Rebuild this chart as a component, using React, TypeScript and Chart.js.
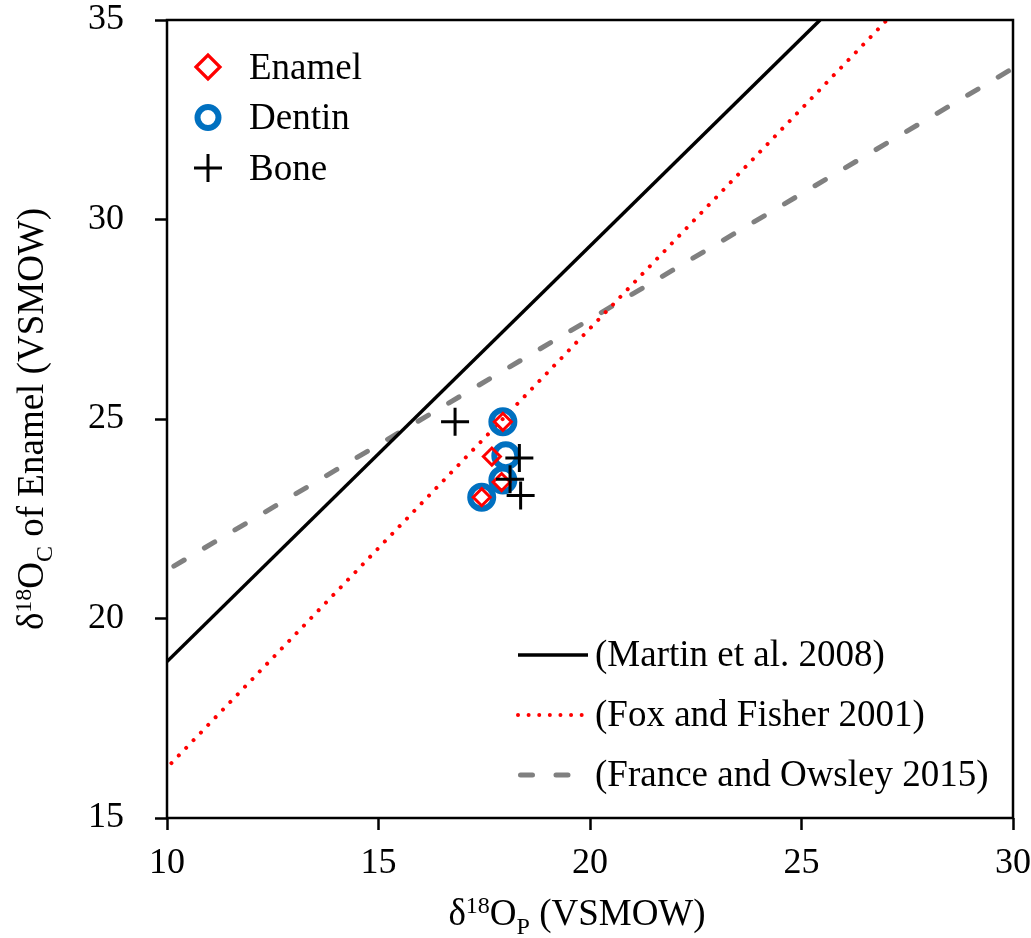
import React, { useEffect, useRef } from "react";
import { Chart, registerables } from "chart.js";

Chart.register(...registerables);

// ---------- data ----------
const xTicks = [10, 15, 20, 25, 30];
const yTicks = [15, 20, 25, 30, 35];

const seriesNames = ["Enamel", "Dentin", "Bone"];
const enamelX = [17.94, 17.68, 17.91, 17.44];
const enamelY = [24.93, 24.06, 23.42, 23.04];
const dentinX = [17.94, 18.01, 17.94, 17.44];
const dentinY = [24.93, 24.08, 23.47, 23.04];
const boneX = [16.81, 18.33, 18.11, 18.36];
const boneY = [24.93, 24.02, 23.49, 23.08];

const lineNames = ["(Martin et al. 2008)", "(Fox and Fisher 2001)", "(France and Owsley 2015)"];
const martinX = [10, 25.44];
const martinY = [18.92, 35];
const foxX = [10, 27.02];
const foxY = [16.26, 35];
const franceX = [10, 30];
const franceY = [21.21, 33.79];

const xTitleParts = [
  { t: "δ", k: "n" },
  { t: "18", k: "sup" },
  { t: "O", k: "n" },
  { t: "P", k: "sub" },
  { t: " (VSMOW)", k: "n" },
];
const yTitleParts = [
  { t: "δ", k: "n" },
  { t: "18", k: "sup" },
  { t: "O", k: "n" },
  { t: "C", k: "sub" },
  { t: " of Enamel (VSMOW)", k: "n" },
];

// ---------- styling ----------
const FONT = '"Liberation Serif", "Times New Roman", Times, serif';
const RED = "#FF0000";
const BLUE = "#0070C0";
const GRAY = "#808080";

const pts = (xs: number[], ys: number[]) => xs.map((x, i) => ({ x, y: ys[i] }));

function drawRich(ctx: CanvasRenderingContext2D, parts: { t: string; k: string }[], cx: number, baseline: number) {
  const big = 37;
  const small = 24;
  const fontFor = (k: string) => `${k === "n" ? big : small}px ${FONT}`;
  let total = 0;
  const widths = parts.map((p) => {
    ctx.font = fontFor(p.k);
    const w = ctx.measureText(p.t).width;
    total += w;
    return w;
  });
  let x = cx - total / 2;
  ctx.textAlign = "left";
  ctx.textBaseline = "alphabetic";
  parts.forEach((p, i) => {
    ctx.font = fontFor(p.k);
    const dy = p.k === "sup" ? -12 : p.k === "sub" ? 9 : 0;
    ctx.fillText(p.t, x, baseline + dy);
    x += widths[i];
  });
}

function drawMarker(ctx: CanvasRenderingContext2D, style: string, x: number, y: number, r: number, color: string, lw: number) {
  ctx.save();
  ctx.strokeStyle = color;
  ctx.lineWidth = lw;
  ctx.setLineDash([]);
  ctx.beginPath();
  if (style === "rectRot") {
    ctx.moveTo(x - r, y);
    ctx.lineTo(x, y - r);
    ctx.lineTo(x + r, y);
    ctx.lineTo(x, y + r);
    ctx.closePath();
  } else if (style === "circle") {
    ctx.arc(x, y, r, 0, Math.PI * 2);
  } else {
    ctx.moveTo(x - r, y);
    ctx.lineTo(x + r, y);
    ctx.moveTo(x, y - r);
    ctx.lineTo(x, y + r);
  }
  ctx.stroke();
  ctx.restore();
}

const decorPlugin = {
  id: "decor",
  afterDraw(chart: any) {
    const ctx: CanvasRenderingContext2D = chart.ctx;
    const a = chart.chartArea;
    const ds = chart.data.datasets;
    ctx.save();

    // frame
    ctx.strokeStyle = "#000";
    ctx.lineWidth = 2.5;
    ctx.setLineDash([]);
    ctx.strokeRect(a.left, a.top, a.right - a.left, a.bottom - a.top);

    // marker legend (top-left)
    const legendSizes = [
      { r: 12, lw: 3.2 },
      { r: 10.5, lw: 6 },
      { r: 14, lw: 3 },
    ];
    for (let i = 0; i < 3; i++) {
      const d = ds[i];
      const cy = a.top + 47 + i * 50.5;
      drawMarker(ctx, d.pointStyle, a.left + 41, cy, legendSizes[i].r, d.borderColor, legendSizes[i].lw);
      ctx.font = `37px ${FONT}`;
      ctx.textAlign = "left";
      ctx.textBaseline = "alphabetic";
      ctx.fillStyle = "#000";
      ctx.fillText(d.label, a.left + 82, cy + 11.5);
    }

    // line legend (bottom-right)
    for (let i = 0; i < 3; i++) {
      const d = ds[3 + i];
      const cy = a.bottom - 163 + i * 60;
      ctx.save();
      ctx.strokeStyle = d.borderColor;
      ctx.lineWidth = d.borderWidth;
      ctx.lineCap = d.borderCapStyle || "butt";
      ctx.setLineDash(d.borderDash || []);
      ctx.lineDashOffset = 0;
      ctx.beginPath();
      const x0 = a.left + 351 + (i === 2 ? 2.5 : 0);
      ctx.moveTo(x0, cy);
      ctx.lineTo(a.left + 421, cy);
      ctx.stroke();
      ctx.restore();
      ctx.font = `37px ${FONT}`;
      ctx.textAlign = "left";
      ctx.textBaseline = "alphabetic";
      ctx.fillStyle = "#000";
      ctx.fillText(d.label, a.left + 428, cy + 11);
    }

    // axis titles
    ctx.fillStyle = "#000";
    drawRich(ctx, xTitleParts, (a.left + a.right) / 2 - 13, 925);
    ctx.save();
    ctx.translate(43, (a.top + a.bottom) / 2);
    ctx.rotate(-Math.PI / 2);
    drawRich(ctx, yTitleParts, 0, 0);
    ctx.restore();

    ctx.restore();
  },
};

export default function App() {
  const ref = useRef<HTMLCanvasElement>(null);

  useEffect(() => {
    document.body.style.margin = "0";
    const canvas = ref.current;
    if (!canvas) return;

    const tickFont = { family: FONT, size: 36, lineHeight: 1 };

    const chart = new Chart(canvas, {
      type: "scatter",
      data: {
        datasets: [
          {
            label: seriesNames[0],
            data: pts(enamelX, enamelY),
            pointStyle: "rectRot",
            pointRadius: 8.5,
            pointHoverRadius: 8.5,
            borderWidth: 3,
            borderColor: RED,
            backgroundColor: "rgba(0,0,0,0)",
            order: 1,
          },
          {
            label: seriesNames[1],
            data: pts(dentinX, dentinY),
            pointStyle: "circle",
            pointRadius: 11.5,
            pointHoverRadius: 11.5,
            borderWidth: 6,
            borderColor: BLUE,
            backgroundColor: "rgba(0,0,0,0)",
            order: 2,
          },
          {
            label: seriesNames[2],
            data: pts(boneX, boneY),
            pointStyle: "cross",
            pointRadius: 14,
            pointHoverRadius: 14,
            borderWidth: 3,
            borderColor: "#000",
            backgroundColor: "#000",
            order: 0,
          },
          {
            label: lineNames[0],
            data: pts(martinX, martinY),
            showLine: true,
            pointRadius: 0,
            borderColor: "#000",
            borderWidth: 3.5,
            backgroundColor: "#000",
            order: 3,
          },
          {
            label: lineNames[1],
            data: pts(foxX, foxY),
            showLine: true,
            pointRadius: 0,
            borderColor: RED,
            borderWidth: 4,
            borderDash: [0.01, 10.6],
            borderDashOffset: 4.2,
            borderCapStyle: "round",
            backgroundColor: RED,
            order: 4,
          },
          {
            label: lineNames[2],
            data: pts(franceX, franceY),
            showLine: true,
            pointRadius: 0,
            borderColor: GRAY,
            borderWidth: 5,
            borderDash: [12, 23.5],
            borderDashOffset: 27.5,
            borderCapStyle: "round",
            backgroundColor: GRAY,
            order: 5,
          },
        ],
      } as any,
      options: {
        responsive: false,
        animation: false,
        events: [],
        layout: { padding: { top: 20, right: 18, left: 0, bottom: 0 } },
        plugins: {
          legend: { display: false },
          tooltip: { enabled: false },
          title: { display: false },
        },
        scales: {
          x: {
            type: "linear",
            min: xTicks[0],
            max: xTicks[xTicks.length - 1],
            afterBuildTicks: (s: any) => {
              s.ticks = xTicks.map((v) => ({ value: v }));
            },
            afterFit: (s: any) => {
              s.height = 120;
              s.paddingLeft = 0;
              s.paddingRight = 0;
              s.paddingTop = 0;
              s.paddingBottom = 0;
            },
            ticks: { font: tickFont, color: "#000", padding: 16, maxRotation: 0 },
            grid: {
              display: true,
              drawOnChartArea: false,
              drawTicks: true,
              tickLength: 12,
              tickWidth: 2.5,
              tickColor: "#000",
            },
            border: { display: false },
            title: { display: false },
          },
          y: {
            type: "linear",
            min: yTicks[0],
            max: yTicks[yTicks.length - 1],
            afterBuildTicks: (s: any) => {
              s.ticks = yTicks.map((v) => ({ value: v }));
            },
            afterFit: (s: any) => {
              s.width = 167;
              s.paddingLeft = 0;
              s.paddingRight = 0;
              s.paddingTop = 0;
              s.paddingBottom = 0;
            },
            ticks: { font: tickFont, color: "#000", padding: 31 },
            grid: {
              display: true,
              drawOnChartArea: false,
              drawTicks: true,
              tickLength: 12,
              tickWidth: 2.5,
              tickColor: "#000",
            },
            border: { display: false },
            title: { display: false },
          },
        },
      } as any,
      plugins: [decorPlugin],
    });

    return () => chart.destroy();
  }, []);

  return (
    <div style={{ width: 1031, height: 938, background: "#fff" }}>
      <canvas ref={ref} width={1031} height={938} style={{ display: "block" }} />
    </div>
  );
}
